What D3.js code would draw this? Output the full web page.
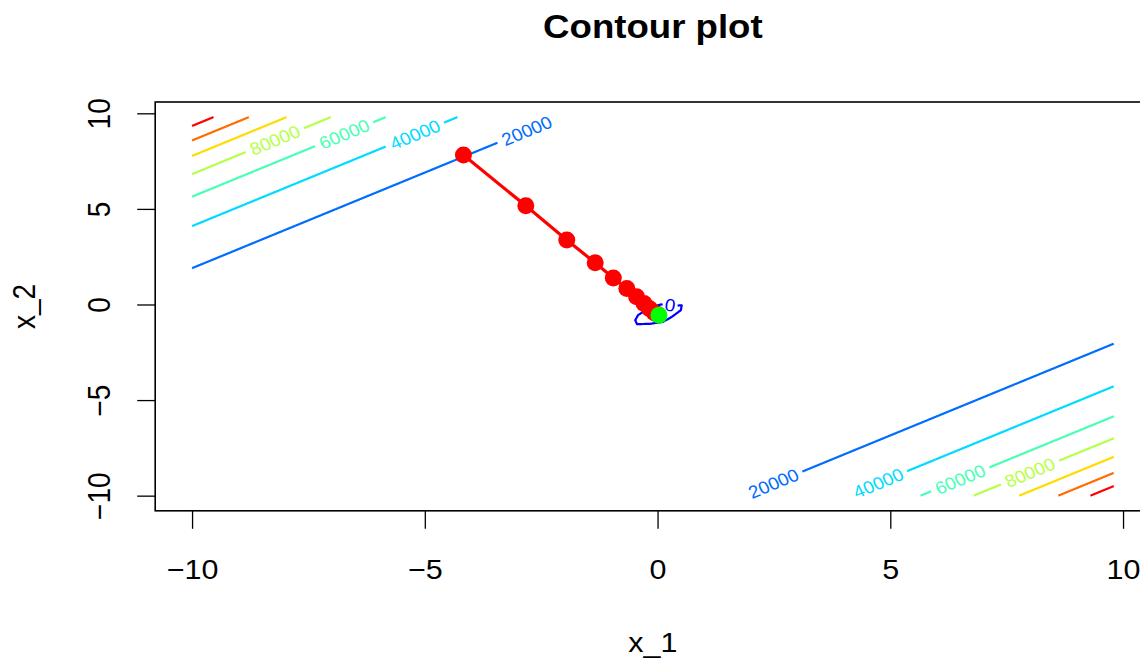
<!DOCTYPE html>
<html>
<head>
<meta charset="utf-8">
<script src="https://cdn.jsdelivr.net/npm/d3@7"></script>
<style>
  html, body { margin: 0; padding: 0; background: #ffffff; }
  svg { display: block; }
  text { font-family: "Liberation Sans", Arial, Helvetica, sans-serif; }
</style>
</head>
<body>
<div id="chart"></div>
<script>
// ---------------- data ----------------
const gridRange = [-10, 9.8];              // evaluation grid of x_1 and x_2
const xTicks = [-10, -5, 0, 5, 10];
const yTicks = [-10, -5, 0, 5, 10];
const titleText = "Contour plot";
const xLabel = "x_1";
const yLabel = "x_2";

// contour levels (0 plus the straight ridges)
const levels = [0, 20000, 40000, 60000, 80000, 100000, 120000, 140000];
const levelNames = ["0", "20000", "40000", "60000", "80000", "100000", "120000", "140000"];

// upper-left ridge branch of each level [x_1, x_2]
const upperStart = [[-10, 1.90], [-10, 4.10], [-10, 5.64], [-10, 6.82], [-10, 7.77], [-10, 8.58], [-10, 9.34]];
const upperEnd   = [[-2.10, 9.8], [-4.30, 9.8], [-5.84, 9.8], [-7.02, 9.8], [-7.97, 9.8], [-8.78, 9.8], [-9.54, 9.8]];
const upperLabel = [[-2.81, 9.09], [-5.21, 8.89], [-6.73, 8.91], [-8.22, 8.60], null, null, null];
// lower-right branch of each level
const lowerStart = [[1.85, -10], [4.08, -10], [5.65, -10], [6.79, -10], [7.77, -10], [8.61, -10], [9.30, -10]];
const lowerEnd   = [[9.8, -2.05], [9.8, -4.28], [9.8, -5.85], [9.8, -7.00], [9.8, -7.97], [9.8, -8.81], [9.8, -9.50]];
const lowerLabel = [[2.49, -9.36], [4.74, -9.34], [6.50, -9.15], [8.00, -8.79], null, null, null];

// the small closed level-0 contour near the minimum
const zeroLoopX1 = [0.14, 0.41, 0.52, 0.50, 0.31, 0.12, -0.16, -0.44, -0.48, -0.42, -0.27, -0.12, 0.05, 0.14];
const zeroLoopX2 = [0.02, -0.06, -0.04, -0.30, -0.64, -0.91, -1.01, -1.03, -0.82, -0.56, -0.32, -0.14, -0.01, 0.02];
const zeroLabel = [0.27, -0.02];

// optimisation path (red) and final point (green)
const pathX1 = [-4.17, -2.83, -1.95, -1.34, -0.95, -0.66, -0.45, -0.29, -0.17, -0.07, 0.00];
const pathX2 = [7.82, 5.16, 3.37, 2.18, 1.39, 0.84, 0.40, 0.05, -0.22, -0.43, -0.52];
const finalPoint = [0.03, -0.56];

// ---------------- layout ----------------
const W = 1140, H = 661;
const plot = { left: 155.2, right: 1150.6, top: 102, bottom: 510.8 };
const TXS = 1.09;         // horizontal stretch of the reference glyphs
const baseFont = 28;

const svg = d3.select("#chart").append("svg")
  .attr("width", W).attr("height", H)
  .attr("viewBox", `0 0 ${W} ${H}`);

const span = gridRange[1] - gridRange[0];
const dom = [gridRange[0] - 0.04 * span, gridRange[1] + 0.04 * span];
const x = d3.scaleLinear().domain(dom).range([plot.left, plot.right]);
const y = d3.scaleLinear().domain(dom).range([plot.bottom, plot.top]);

const colorRamp = d3.scaleLinear()
  .domain([0, 1 / 3, 2 / 3, 1])
  .range(["#0000FF", "#00FFFF", "#FFFF00", "#FF0000"])
  .interpolate(d3.interpolateRgb);
const levelColor = i => colorRamp(i / (levels.length - 1));

// ---------------- helpers ----------------
function splitPolyline(pts, gaps, minLen) {
  const pieces = [];
  let cur = [];
  const inside = p => gaps.some(g => Math.hypot(p[0] - g.x, p[1] - g.y) < g.r);
  for (let i = 0; i < pts.length - 1; i++) {
    const a = pts[i], b = pts[i + 1];
    const len = Math.hypot(b[0] - a[0], b[1] - a[1]);
    const n = Math.max(1, Math.ceil(len / 0.5));
    for (let k = (i === 0 ? 0 : 1); k <= n; k++) {
      const t = k / n;
      const p = [a[0] + (b[0] - a[0]) * t, a[1] + (b[1] - a[1]) * t];
      if (inside(p)) {
        if (cur.length > 1) pieces.push(cur);
        cur = [];
      } else cur.push(p);
    }
  }
  if (cur.length > 1) pieces.push(cur);
  const plen = pc => d3.sum(pc.slice(1), (p, j) => Math.hypot(p[0] - pc[j][0], p[1] - pc[j][1]));
  return pieces.filter(pc => plen(pc) >= minLen);
}

const lineGen = d3.line();
const gContours = svg.append("g");
const gLabels = svg.append("g");

function addLabel(text, cx, cy, dirx, diry, color, fs) {
  let ang = Math.atan2(diry, dirx / TXS) * 180 / Math.PI;
  if (ang > 90) ang -= 180;
  if (ang < -90) ang += 180;
  const t = gLabels.append("text")
    .attr("text-anchor", "middle")
    .attr("dominant-baseline", "central")
    .attr("font-size", fs)
    .attr("fill", color)
    .attr("transform", `translate(${cx},${cy}) scale(${TXS},1) rotate(${ang})`)
    .text(text);
  const w = t.node().getComputedTextLength() * TXS;
  return { x: cx, y: cy, r: 0.56 * w + 1.5 };
}

function drawContour(ptsData, labelPos, idx, labelText, fs) {
  const pts = ptsData.map(p => [x(p[0]), y(p[1])]);
  const gaps = [];
  if (labelPos) {
    const cx = x(labelPos[0]), cy = y(labelPos[1]);
    let best = 0, bd = Infinity;
    for (let i = 0; i < pts.length - 1; i++) {
      const mx = (pts[i][0] + pts[i + 1][0]) / 2, my = (pts[i][1] + pts[i + 1][1]) / 2;
      const d = Math.hypot(mx - cx, my - cy);
      if (d < bd) { bd = d; best = i; }
    }
    const dx = pts[best + 1][0] - pts[best][0], dy = pts[best + 1][1] - pts[best][1];
    gaps.push(addLabel(labelText, cx, cy, dx, dy, levelColor(idx), fs));
  }
  splitPolyline(pts, gaps, 10).forEach(pc => {
    gContours.append("path")
      .attr("d", lineGen(pc))
      .attr("fill", "none")
      .attr("stroke", levelColor(idx))
      .attr("stroke-width", 2.2)
      .attr("stroke-linejoin", "round");
  });
}

// ---------------- contours ----------------
const labelFont = 17.5;
for (let i = 1; i < levels.length; i++) {
  drawContour([upperStart[i - 1], upperEnd[i - 1]], upperLabel[i - 1], i, levelNames[i], labelFont);
  drawContour([lowerStart[i - 1], lowerEnd[i - 1]], lowerLabel[i - 1], i, levelNames[i], labelFont);
}
drawContour(zeroLoopX1.map((v, k) => [v, zeroLoopX2[k]]), zeroLabel, 0, levelNames[0], labelFont);

// ---------------- path ----------------
const pathPts = pathX1.map((v, k) => [v, pathX2[k]]);
svg.append("path")
  .attr("d", d3.line().x(d => x(d[0])).y(d => y(d[1]))(pathPts))
  .attr("fill", "none")
  .attr("stroke", "#FF0000")
  .attr("stroke-width", 3.2)
  .attr("stroke-linejoin", "round");
svg.append("g").selectAll("circle").data(pathPts).join("circle")
  .attr("cx", d => x(d[0])).attr("cy", d => y(d[1]))
  .attr("r", 8.5).attr("fill", "#FF0000");
svg.append("circle")
  .attr("cx", x(finalPoint[0])).attr("cy", y(finalPoint[1]))
  .attr("r", 8.5).attr("fill", "#00FF00");

// ---------------- axes ----------------
const xAxis = svg.append("g")
  .attr("transform", `translate(0,${plot.bottom})`)
  .call(d3.axisBottom(x).tickValues(xTicks).tickSize(18).tickSizeOuter(0));
xAxis.select(".domain").remove();
xAxis.selectAll(".tick line").attr("stroke", "#000").attr("stroke-width", 1.3);
xAxis.selectAll(".tick text")
  .attr("x", 0).attr("y", 0).attr("dy", null)
  .attr("fill", "#000")
  .attr("font-size", baseFont)
  .attr("font-family", "Liberation Sans, Arial, sans-serif")
  .attr("text-anchor", "middle")
  .attr("transform", `translate(0,68) scale(${TXS},1)`);

const yAxis = svg.append("g")
  .attr("transform", `translate(${plot.left},0)`)
  .call(d3.axisLeft(y).tickValues(yTicks).tickSize(18).tickSizeOuter(0));
yAxis.select(".domain").remove();
yAxis.selectAll(".tick line").attr("stroke", "#000").attr("stroke-width", 1.3);
yAxis.selectAll(".tick text")
  .attr("x", 0).attr("y", 0).attr("dy", null)
  .attr("fill", "#000")
  .attr("font-size", baseFont)
  .attr("font-family", "Liberation Sans, Arial, sans-serif")
  .attr("text-anchor", "middle")
  .attr("transform", `translate(${110 - plot.left},0) scale(${TXS},1) rotate(-90)`);

// plot box
svg.append("rect")
  .attr("x", plot.left).attr("y", plot.top)
  .attr("width", plot.right - plot.left).attr("height", plot.bottom - plot.top)
  .attr("fill", "none").attr("stroke", "#000").attr("stroke-width", 1.6);

// titles
const cxPlot = (plot.left + plot.right) / 2;
svg.append("text")
  .attr("text-anchor", "middle")
  .attr("font-size", baseFont * 1.2).attr("font-weight", "bold")
  .attr("transform", `translate(${cxPlot},38) scale(${TXS},1)`)
  .text(titleText);
svg.append("text")
  .attr("text-anchor", "middle")
  .attr("font-size", baseFont)
  .attr("transform", `translate(${cxPlot},652) scale(${TXS},1)`)
  .text(xLabel);
svg.append("text")
  .attr("text-anchor", "middle")
  .attr("font-size", baseFont)
  .attr("transform", `translate(35,${(plot.top + plot.bottom) / 2}) scale(${TXS},1) rotate(-90)`)
  .text(yLabel);
</script>
</body>
</html>
